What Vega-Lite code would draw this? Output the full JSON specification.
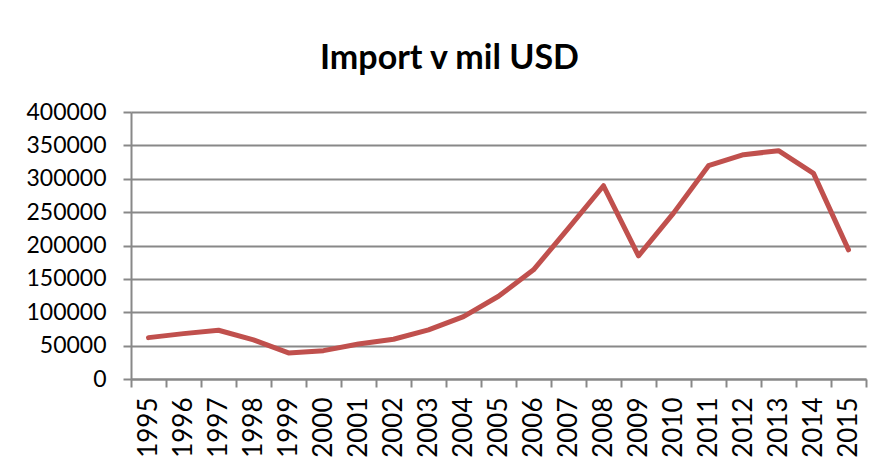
{
  "$schema": "https://vega.github.io/schema/vega-lite/v6.json",
  "width": 735,
  "height": 267,
  "autosize": {"type": "none"},
  "padding": {"left": 131, "top": 112, "right": 11, "bottom": 82},
  "background": "white",
  "title": {
    "text": "Import v mil USD",
    "font": "Lato",
    "fontSize": 34,
    "fontWeight": "bold",
    "color": "black",
    "anchor": "middle",
    "frame": "group",
    "baseline": "alphabetic",
    "offset": -2,
    "dx": -49
  },
  "config": {
    "view": {"stroke": null},
    "axis": {
      "domainColor": "#888888",
      "domainWidth": 2,
      "tickColor": "#888888",
      "tickWidth": 2,
      "gridColor": "#888888",
      "gridWidth": 2,
      "labelColor": "black",
      "title": null
    }
  },
  "data": {
    "values": [
      {"year": "1995", "value": 62000},
      {"year": "1996", "value": 68000},
      {"year": "1997", "value": 73000},
      {"year": "1998", "value": 58500},
      {"year": "1999", "value": 39000},
      {"year": "2000", "value": 42500},
      {"year": "2001", "value": 52500},
      {"year": "2002", "value": 59500},
      {"year": "2003", "value": 73500},
      {"year": "2004", "value": 93500},
      {"year": "2005", "value": 124000},
      {"year": "2006", "value": 163500},
      {"year": "2007", "value": 226000},
      {"year": "2008", "value": 289500},
      {"year": "2009", "value": 184500},
      {"year": "2010", "value": 248500},
      {"year": "2011", "value": 319500},
      {"year": "2012", "value": 336000},
      {"year": "2013", "value": 342000},
      {"year": "2014", "value": 308000},
      {"year": "2015", "value": 193500}
    ]
  },
  "mark": {
    "type": "line",
    "color": "#C0504D",
    "strokeWidth": 5,
    "strokeCap": "round",
    "strokeJoin": "round"
  },
  "encoding": {
    "x": {
      "field": "year",
      "type": "ordinal",
      "bandPosition": 0.5,
      "scale": {"type": "band", "paddingInner": 0, "paddingOuter": 0},
      "axis": {
        "labelAngle": -90,
        "labelAlign": "right",
        "labelBaseline": "middle",
        "labelFont": "Liberation Sans Narrow, Lato",
        "labelFontSize": 26,
        "labelPadding": 10,
        "tickSize": 8,
        "tickBand": "extent",
        "grid": false
      }
    },
    "y": {
      "field": "value",
      "type": "quantitative",
      "scale": {"domain": [0, 400000], "nice": false},
      "axis": {
        "values": [0, 50000, 100000, 150000, 200000, 250000, 300000, 350000, 400000],
        "format": "d",
        "labelFont": "Lato",
        "labelFontSize": 23,
        "labelPadding": 17,
        "tickSize": 8,
        "grid": true
      }
    }
  }
}
